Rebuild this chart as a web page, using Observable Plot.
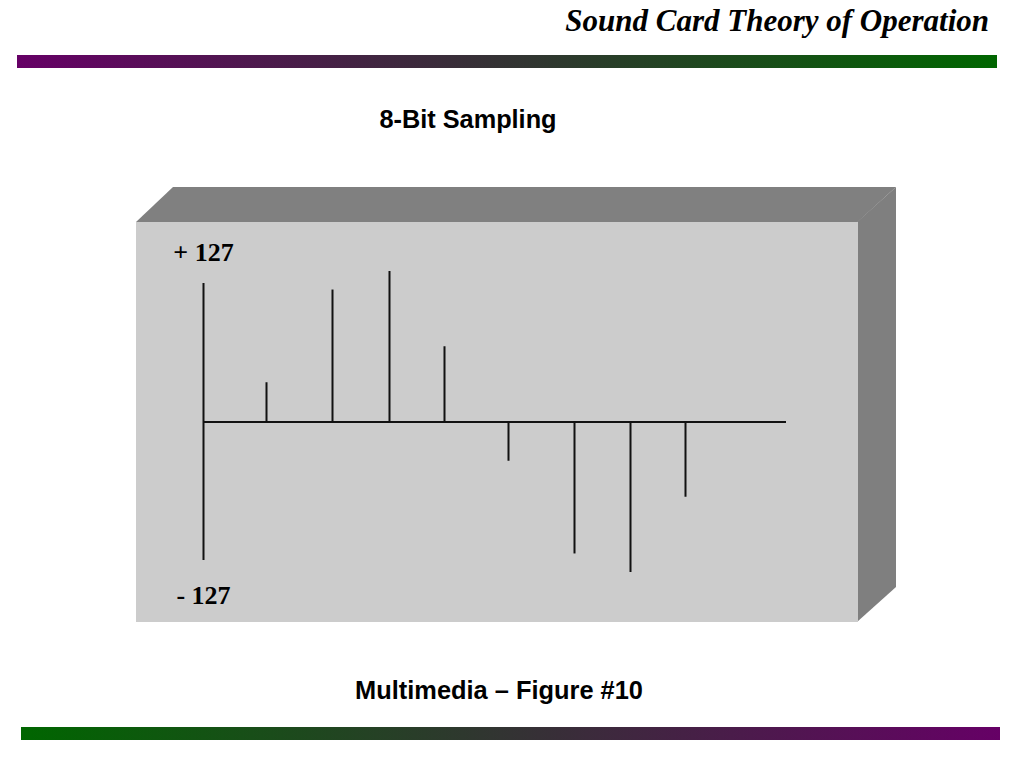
<!DOCTYPE html>
<html>
<head>
<meta charset="utf-8">
<script src="https://cdn.jsdelivr.net/npm/d3@7"></script>
<script src="https://cdn.jsdelivr.net/npm/@observablehq/plot@0.6"></script>
<style>
  html, body { margin: 0; padding: 0; background: #fff; }
  #slide { position: relative; width: 1024px; height: 768px; overflow: hidden; background: #fff; }
  .abs { position: absolute; }
  #title { right: 35px; top: 5px; font: italic bold 31px/31px "Liberation Serif", "Times New Roman", serif; color: #000; white-space: nowrap; }
  #topbar { left: 17px; top: 55px; width: 980px; height: 13px; background: linear-gradient(to right, #660066, #006600); }
  #botbar { left: 21px; top: 727px; width: 979px; height: 13px; background: linear-gradient(to right, #006600, #660066); }
  #subtitle { left: 268px; width: 400px; top: 107px; text-align: center; font: bold 25.3px/25px "Liberation Sans", Arial, sans-serif; color: #000; }
  #caption { left: 249px; width: 500px; top: 678px; text-align: center; font: bold 25.4px/25px "Liberation Sans", Arial, sans-serif; color: #000; }
  #front { left: 136px; top: 222px; width: 722px; height: 400px; background: #cccccc; }
  #topface { left: 136px; top: 187px; width: 760px; height: 35px; background: #808080;
    clip-path: polygon(0 35px, 37px 0, 760px 0, 721.5px 35px); }
  #sideface { left: 857px; top: 187px; width: 39px; height: 435px; background: #7f7f7f;
    clip-path: polygon(0 35px, 39px 0, 39px 400px, 0 435px); }
  #chart { left: 136px; top: 222px; width: 722px; height: 400px; }
  #chart svg { background: transparent; overflow: visible; }
</style>
</head>
<body>
<div id="slide">
  <div id="title" class="abs">Sound Card Theory of Operation</div>
  <div id="topbar" class="abs"></div>
  <div id="subtitle" class="abs">8-Bit Sampling</div>
  <div id="topface" class="abs"></div>
  <div id="sideface" class="abs"></div>
  <div id="front" class="abs"></div>
  <div id="chart" class="abs"></div>
  <div id="caption" class="abs">Multimedia – Figure #10</div>
  <div id="botbar" class="abs"></div>
</div>
<script>
// Sample positions along the time axis (relative units) and 8-bit amplitudes
const sampleTime = [63, 129, 186, 241, 305, 371, 427, 482];
const sampleValue = [36, 121, 138, 69, -36, -121, -138, -69];
const timeStart = 0;
const timeEnd = 583;
// Level labels
const levelLabels = ["+ 127", "- 127"];
const levelValues = [127, -127];
const levelOffsets = [-23, 43];

const samples = sampleTime.map((t, i) => ({t, v: sampleValue[i]}));
const levels = levelLabels.map((label, i) => ({label, v: levelValues[i], dy: levelOffsets[i]}));

const chart = Plot.plot({
  width: 722,
  height: 400,
  marginLeft: 67,
  marginRight: 72,
  marginTop: 61,
  marginBottom: 62,
  x: {domain: [timeStart, timeEnd], axis: null},
  y: {domain: [levelValues[1], levelValues[0]], axis: null},
  style: {background: "transparent", overflow: "visible"},
  marks: [
    Plot.ruleX([timeStart], {y1: levelValues[1], y2: levelValues[0], stroke: "#111", strokeWidth: 2}),
    Plot.ruleY([0], {x1: timeStart, x2: timeEnd, stroke: "#111", strokeWidth: 2}),
    Plot.ruleX(samples, {x: "t", y1: 0, y2: "v", stroke: "#111", strokeWidth: 2}),
    ...levels.map(d => Plot.text([d], {
      x: timeStart, y: "v", text: "label", dy: d.dy,
      textAnchor: "middle", lineAnchor: "bottom",
      fontSize: 26, fontWeight: "bold", fontFamily: "Liberation Serif, Times New Roman, serif",
      fill: "#000"
    }))
  ]
});
document.getElementById("chart").appendChild(chart);
</script>
</body>
</html>
